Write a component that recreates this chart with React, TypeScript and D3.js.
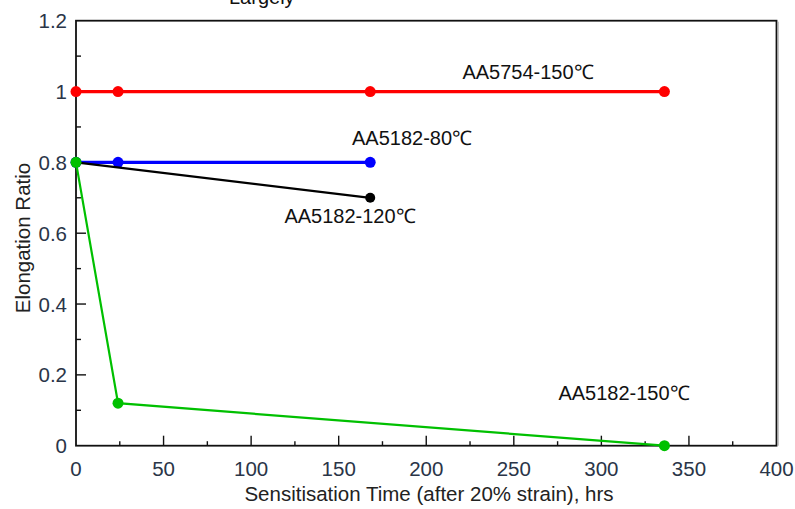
import React from "react";
import * as d3 from "d3";

const xTicks = [0, 50, 100, 150, 200, 250, 300, 350, 400];
const yTicks = [0, 0.2, 0.4, 0.6, 0.8, 1, 1.2];
const yTickLabels = ["0", "0.2", "0.4", "0.6", "0.8", "1", "1.2"];

const redX = [0, 24, 168, 336];
const redY = [1, 1, 1, 1];
const blueX = [0, 24, 168];
const blueY = [0.8, 0.8, 0.8];
const blackX = [0, 168];
const blackY = [0.8, 0.7];
const greenX = [0, 24, 336];
const greenY = [0.8, 0.12, 0];

const seriesNames = ["AA5754-150℃", "AA5182-80℃", "AA5182-120℃", "AA5182-150℃"];

export default function App() {
  const W = 795, H = 509;
  const left = 76, right = 776.5, top = 20.7, bottom = 445.7;
  const x = d3.scaleLinear().domain([0, 400]).range([left, right]);
  const y = d3.scaleLinear().domain([0, 1.2]).range([bottom, top]);
  const line = d3.line<[number, number]>().x(d => x(d[0])).y(d => y(d[1]));
  const zip = (a: number[], b: number[]) => a.map((v, i) => [v, b[i]] as [number, number]);

  const series = [
    { pts: zip(redX, redY), color: "#ff0000", w: 3.2, r: 5.5 },
    { pts: zip(blueX, blueY), color: "#0000ff", w: 3.2, r: 5.5 },
    { pts: zip(blackX, blackY), color: "#000000", w: 2.2, r: 5 },
    { pts: zip(greenX, greenY), color: "#00c000", w: 2.2, r: 5.5 },
  ];

  const xMinor = d3.range(25, 400, 50);
  const yMinor = d3.range(0.1, 1.2, 0.2);
  const font = "'Liberation Sans', Arial, sans-serif";
  const tickColor = "#2a3548";

  const labels = [
    { t: seriesNames[0], x: 528, y: 79 },
    { t: seriesNames[1], x: 412, y: 145 },
    { t: seriesNames[2], x: 350, y: 223 },
    { t: seriesNames[3], x: 624, y: 400 },
  ];

  return (
    <svg width={W} height={H} style={{ position: "absolute", left: 0, top: 0, background: "#fff" }} fontFamily={font}>
      <text x={229} y={4} fontSize={20} fill="#111">Largely</text>
      {/* frame */}
      <rect x={left} y={top} width={right - left} height={bottom - top} fill="none" stroke="#111" strokeWidth={1.8} />
      <line x1={right + 1.7} y1={top + 1} x2={right + 1.7} y2={bottom} stroke="#aaa" strokeWidth={1} />
      {/* x ticks */}
      {xTicks.slice(1, -1).map(v => (
        <line key={"xt" + v} x1={x(v)} x2={x(v)} y1={bottom} y2={bottom - 10} stroke="#111" strokeWidth={1.4} />
      ))}
      {xMinor.map(v => (
        <line key={"xm" + v} x1={x(v)} x2={x(v)} y1={bottom} y2={bottom - 4.5} stroke="#111" strokeWidth={1.4} />
      ))}
      {yTicks.slice(1, -1).map(v => (
        <line key={"yt" + v} x1={left} x2={left + 10} y1={y(v)} y2={y(v)} stroke="#111" strokeWidth={1.4} />
      ))}
      {yMinor.map(v => (
        <line key={"ym" + v} x1={left} x2={left + 5} y1={y(v)} y2={y(v)} stroke="#111" strokeWidth={1.4} />
      ))}
      {xTicks.map(v => (
        <text key={"xl" + v} x={x(v)} y={476} fontSize={20.5} textAnchor="middle" fill={tickColor}>{v}</text>
      ))}
      {yTicks.map((v, i) => (
        <text key={"yl" + v} x={67} y={y(v) + 7.5} fontSize={20.5} textAnchor="end" fill={tickColor}>{yTickLabels[i]}</text>
      ))}
      {/* series */}
      {series.map((s, i) => (
        <g key={"s" + i}>
          <path d={line(s.pts) || ""} fill="none" stroke={s.color} strokeWidth={s.w} />
          {s.pts.map((p, j) => (
            <circle key={j} cx={x(p[0])} cy={y(p[1])} r={s.r} fill={s.color} />
          ))}
        </g>
      ))}
      {labels.map(l => (
        <text key={l.t} x={l.x} y={l.y} fontSize={20} textAnchor="middle" fill="#111">{l.t}</text>
      ))}
      <text x={429} y={501} fontSize={20.5} textAnchor="middle" fill="#222">Sensitisation Time (after 20% strain), hrs</text>
      <text transform={`translate(30,${238}) rotate(-90)`} fontSize={20.5} textAnchor="middle" fill="#222">Elongation Ratio</text>
    </svg>
  );
}
